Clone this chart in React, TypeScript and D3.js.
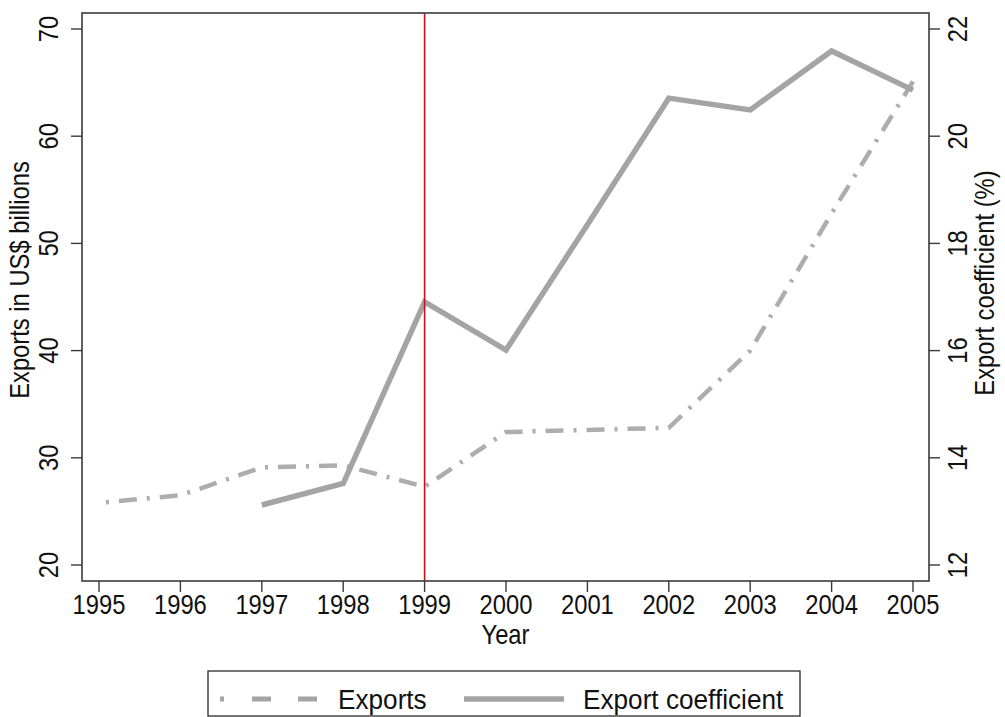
import React from "react";
import * as d3 from "d3";

// Exports (US$ bn) and export coefficient (%) by year
const exportYears = [1995, 1996, 1997, 1998, 1999, 2000, 2001, 2002, 2003, 2004, 2005];
const exportsBn = [25.8, 26.5, 29.1, 29.3, 27.3, 32.4, 32.6, 32.8, 40.0, 52.8, 65.1];
const coefYears = [1997, 1998, 1999, 2000, 2001, 2002, 2003, 2004, 2005];
const exportCoef = [13.12, 13.52, 16.91, 16.01, 18.35, 20.71, 20.49, 21.59, 20.86];

const xTicks = [1995, 1996, 1997, 1998, 1999, 2000, 2001, 2002, 2003, 2004, 2005];
const leftTicks = [20, 30, 40, 50, 60, 70];
const rightTicks = [12, 14, 16, 18, 20, 22];
const markerYear = 1999;

const W = 1005;
const H = 717;
const frame = { left: 82, right: 929, top: 13, bottom: 581 };
const FONT = "'Liberation Sans', Arial, Helvetica, sans-serif";
const GREY = "#a4a4a4";
const AXIS = "#3a3a3a";

export default function App() {
  const x = d3.scaleLinear().domain([1995, 2005]).range([99, 913]);
  const yL = d3.scaleLinear().domain([20, 70]).range([565, 29]);
  const yR = d3.scaleLinear().domain([12, 22]).range([565, 29]);

  const exportsLine = d3
    .line<number>()
    .x((_, i) => x(exportYears[i]))
    .y((d) => yL(d));
  const coefLine = d3
    .line<number>()
    .x((_, i) => x(coefYears[i]))
    .y((d) => yR(d));

  const sx = 0.88;

  return (
    <svg
      width={W}
      height={H}
      style={{ position: "absolute", left: 0, top: 0, background: "#fff" }}
      fontFamily={FONT}
    >
      <rect x={0} y={0} width={W} height={H} fill="#fff" />

      {/* series */}
      <path
        d={exportsLine(exportsBn) || ""}
        fill="none"
        stroke={GREY}
        strokeWidth={4.5}
        strokeDasharray="18,10,3,10"
        strokeDashoffset={-20}
        opacity={0.9}
      />
      <path
        d={coefLine(exportCoef) || ""}
        fill="none"
        stroke={GREY}
        strokeWidth={5.5}
        strokeLinejoin="miter"
      />

      {/* reference year */}
      <line
        x1={x(markerYear)}
        x2={x(markerYear)}
        y1={frame.top}
        y2={frame.bottom}
        stroke="#c8101a"
        strokeWidth={1.6}
      />

      {/* plot frame */}
      <rect
        x={frame.left}
        y={frame.top}
        width={frame.right - frame.left}
        height={frame.bottom - frame.top}
        fill="none"
        stroke={AXIS}
        strokeWidth={1.6}
      />

      {/* bottom axis */}
      {xTicks.map((t) => (
        <g key={"x" + t}>
          <line x1={x(t)} x2={x(t)} y1={frame.bottom} y2={frame.bottom + 11} stroke={AXIS} strokeWidth={1.4} />
          <text
            transform={`translate(${x(t)},${frame.bottom + 33}) scale(${sx},1)`}
            textAnchor="middle"
            fontSize={27}
            fill="#111"
          >
            {t}
          </text>
        </g>
      ))}
      <text
        transform={`translate(${(frame.left + frame.right) / 2},${frame.bottom + 63}) scale(${sx},1)`}
        textAnchor="middle"
        fontSize={27}
        fill="#111"
      >
        Year
      </text>

      {/* left axis */}
      {leftTicks.map((t) => (
        <g key={"l" + t}>
          <line x1={frame.left - 11} x2={frame.left} y1={yL(t)} y2={yL(t)} stroke={AXIS} strokeWidth={1.4} />
          <text
            transform={`translate(${frame.left - 24},${yL(t)}) rotate(-90) scale(${sx},1)`}
            textAnchor="middle"
            fontSize={27}
            fill="#111"
          >
            {t}
          </text>
        </g>
      ))}
      <text
        transform={`translate(29,${(yL(20) + yL(70)) / 2 - 17}) rotate(-90) scale(${sx},1)`}
        textAnchor="middle"
        fontSize={27}
        fill="#111"
      >
        Exports in US$ billions
      </text>

      {/* right axis */}
      {rightTicks.map((t) => (
        <g key={"r" + t}>
          <line x1={frame.right} x2={frame.right + 11} y1={yR(t)} y2={yR(t)} stroke={AXIS} strokeWidth={1.4} />
          <text
            transform={`translate(${frame.right + 38},${yR(t)}) rotate(-90) scale(${sx},1)`}
            textAnchor="middle"
            fontSize={27}
            fill="#111"
          >
            {t}
          </text>
        </g>
      ))}
      <text
        transform={`translate(994,${(yR(12) + yR(22)) / 2 - 14}) rotate(-90) scale(${sx},1)`}
        textAnchor="middle"
        fontSize={27}
        fill="#111"
      >
        Export coefficient (%)
      </text>

      {/* legend */}
      <rect x={208} y={671} width={592} height={45} fill="#fff" stroke={AXIS} strokeWidth={1.4} />
      <line x1={220} x2={318} y1={699} y2={699} stroke={GREY} strokeWidth={5} strokeDasharray="4,28,19,27,19,100" />
      <text x={338} y={709} fontSize={27} fill="#111" transform={`translate(${338 * (1 - 0.97)},0) scale(0.97,1)`}>
        Exports
      </text>
      <line x1={464} x2={564} y1={699} y2={699} stroke={GREY} strokeWidth={5.5} />
      <text x={583} y={709} fontSize={27} fill="#111" transform={`translate(${583 * (1 - 0.97)},0) scale(0.97,1)`}>
        Export coefficient
      </text>
    </svg>
  );
}
